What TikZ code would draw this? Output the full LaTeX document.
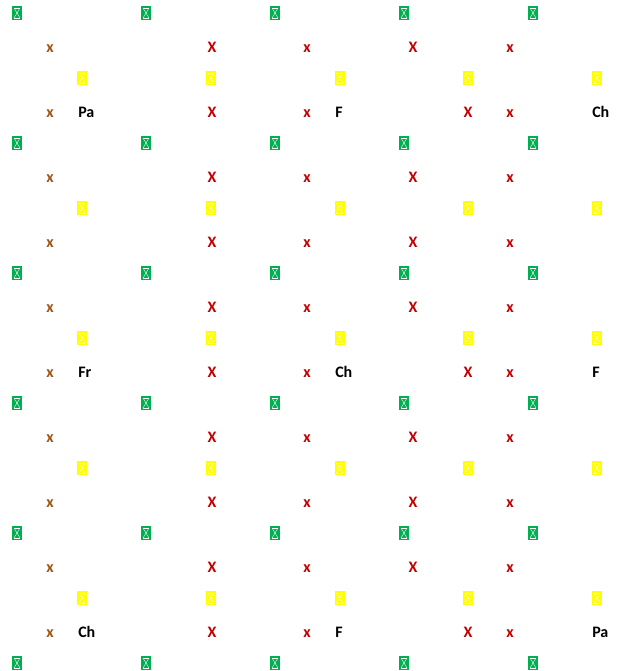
\documentclass[tikz,border=0pt]{standalone}
\usepackage{fontspec}
\setmainfont{Carlito}
\definecolor{tofugreen}{HTML}{00B050}
\definecolor{tofuyellow}{HTML}{FFFF00}
\definecolor{xred}{HTML}{C00000}
\definecolor{xbrown}{HTML}{9C5514}

\begin{document}
\begin{tikzpicture}[
    x=0.75pt, y=-0.75pt,
    tofu/.style={rectangle, fill=#1, minimum width=7.5pt, minimum height=10.5pt, inner sep=0pt,
        path picture={
            \draw[white, line width=0.3pt] ([shift={(1.5pt,-1.5pt)}]path picture bounding box.north west) -- ([shift={(-1.5pt,1.5pt)}]path picture bounding box.south east)
                ([shift={(-1.5pt,-1.5pt)}]path picture bounding box.north east) -- ([shift={(1.5pt,1.5pt)}]path picture bounding box.south west);
            \draw[white, line width=0.3pt] ([shift={(1.5pt,-1.5pt)}]path picture bounding box.north west) -- ([shift={(-1.5pt,-1.5pt)}]path picture bounding box.north east)
                ([shift={(1.5pt,1.5pt)}]path picture bounding box.south west) -- ([shift={(-1.5pt,1.5pt)}]path picture bounding box.south east);}},
    xglyph/.style={font=\fontsize{12}{14}\selectfont\bfseries, text=#1, anchor=base, inner sep=0pt},
    tag/.style={font=\fontsize{12}{14}\selectfont\bfseries, anchor=base west, inner sep=0pt}
]
\useasboundingbox (0,0) rectangle (617,671);

% green and yellow boxes
\foreach \k in {0,...,5}
  \foreach \i in {0,...,4}
    \node[tofu=tofugreen] (g-\k-\i) at ({17+129*\i},{13+130*\k}) {};
\foreach \k in {0,...,4}
  \foreach \i in {0,...,4}
    \node[tofu=tofuyellow] (y-\k-\i) at ({82+128.75*\i},{78+130*\k}) {};

% rows of crosses
\foreach \j in {0,...,9} {
  \node[xglyph=xbrown] (xa-\j) at (50,{52.5+65*\j}) {x};
  \node[xglyph=xred] (xb-\j) at (212,{52.5+65*\j}) {X};
  \node[xglyph=xred] (xc-\j) at (307,{52.5+65*\j}) {x};
  \node[xglyph=xred] (xe-\j) at (510,{52.5+65*\j}) {x};
}
\foreach \j in {0,2,3,4,6,7,8}
  \node[xglyph=xred] (xd-\j) at (413,{52.5+65*\j}) {X};

% labelled rows
\foreach \j/\ta/\tb/\tc in {1/Pa/F/Ch, 5/Fr/Ch/F, 9/Ch/F/Pa} {
  \node[xglyph=xred] (xd-\j) at (468,{52.5+65*\j}) {X};
  \node[tag] (ta-\j) at (78,{52.5+65*\j}) {\ta};
  \node[tag] (tb-\j) at (335,{52.5+65*\j}) {\tb};
  \node[tag] (tc-\j) at (592,{52.5+65*\j}) {\tc};
}

\end{tikzpicture}
\end{document}
